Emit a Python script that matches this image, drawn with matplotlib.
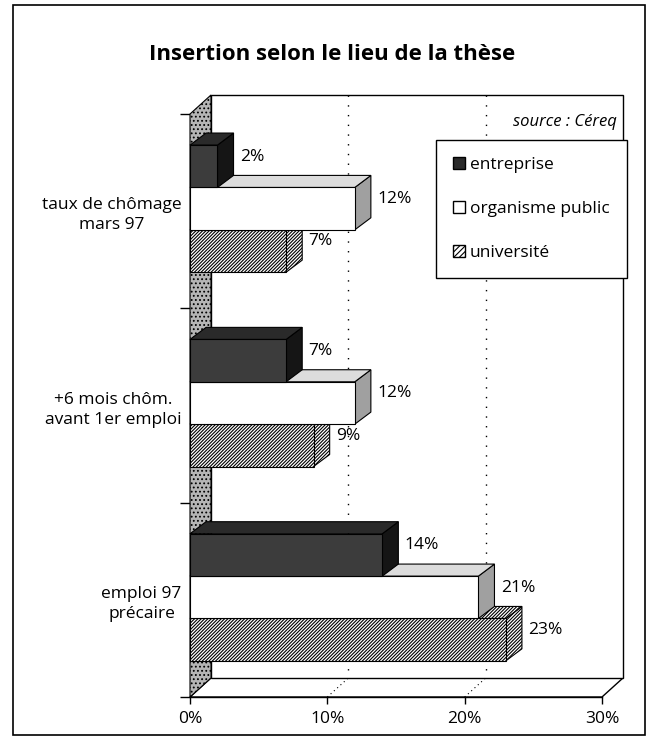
import matplotlib.pyplot as plt
from matplotlib.patches import Polygon, Rectangle, Patch

plt.rcParams['font.family'] = ['Open Sans', 'DejaVu Sans']
plt.rcParams['hatch.linewidth'] = 0.8

# données (source : Céreq)
categories = ['taux de chômage\nmars 97', '+6 mois chôm.\navant 1er emploi', 'emploi 97\nprécaire']
series = ['entreprise', 'organisme public', 'université']
entreprise = [2, 7, 14]
organisme_public = [12, 12, 21]
universite = [7, 9, 23]
xticks = [0, 10, 20, 30]
xtick_labels = ['0%', '10%', '20%', '30%']

values = [entreprise, organisme_public, universite]
# (face avant, dessus, côté, hachure)
styles = [('#3c3c3c', '#2a2a2a', '#151515', None),
          ('white', '#dcdcdc', '#a0a0a0', None),
          ('white', 'white', 'white', '//////////')]

fig = plt.figure(figsize=(6.58, 7.4), dpi=100)
ax = fig.add_axes([190/658, 1-697/740, 412/658, 583/740])
ax.set_xlim(0, 30)
ax.set_ylim(3, 0)
for s in ax.spines.values():
    s.set_visible(False)

# profondeur du mur et des barres (unités des données)
wx, wy = 1.53, 0.098
bx, by = 1.17, 0.062

# sol, mur du fond, mur de gauche
ax.add_patch(Polygon([(0, 3), (30, 3), (30+wx, 3-wy), (wx, 3-wy)], closed=True,
                     facecolor='white', edgecolor='black', lw=1, clip_on=False, zorder=1))
ax.add_patch(Rectangle((wx, -wy), 30, 3, facecolor='white', edgecolor='black',
                       lw=1, clip_on=False, zorder=1))
ax.add_patch(Polygon([(0, 0), (wx, -wy), (wx, 3-wy), (0, 3)], closed=True,
                     facecolor='#b5b5b5', edgecolor='black', hatch='....', lw=0.8,
                     clip_on=False, zorder=2))
for g in xticks[1:-1]:
    ax.plot([g+wx, g+wx], [-wy, 3-wy], ls=(0, (1, 6)), color='black', lw=1,
            clip_on=False, zorder=1.5)
    ax.plot([g, g+wx], [3, 3-wy], ls=(0, (1, 3)), color='black', lw=0.8,
            clip_on=False, zorder=1.5)

# barres 3D
h = 0.218
z = 3
for i in reversed(range(len(categories))):
    for j in reversed(range(len(series))):
        v = values[j][i]
        y0 = i + 0.16 + j*h
        front, top, side, hatch = styles[j]
        ax.add_patch(Polygon([(v, y0), (v+bx, y0-by), (v+bx, y0+h-by), (v, y0+h)],
                             closed=True, facecolor=side, edgecolor='black', hatch=hatch,
                             lw=0.8, clip_on=False, zorder=z))
        ax.add_patch(Polygon([(0, y0), (v, y0), (v+bx, y0-by), (bx, y0-by)],
                             closed=True, facecolor=top, edgecolor='black', hatch=hatch,
                             lw=0.8, clip_on=False, zorder=z))
        ax.add_patch(Rectangle((0, y0), v, h, facecolor=front, edgecolor='black',
                               hatch=hatch, lw=0.8, clip_on=False, zorder=z+0.5))
        ax.text(v+bx+0.45, y0+h/2-by*0.8, f'{v}%', ha='left', va='center',
                fontsize=12.5, zorder=20)
        z += 1

# axes
ax.set_xticks(xticks)
ax.set_xticklabels(xtick_labels, fontsize=12.5)
ax.tick_params(axis='x', length=5, width=1, pad=5)
ax.set_yticks([0.5, 1.5, 2.5])
ax.set_yticklabels(categories, fontsize=12.5, linespacing=1.35)
for t in ax.get_yticklabels():
    t.set_multialignment('center')
ax.set_yticks([0, 1, 2, 3], minor=True)
ax.tick_params(axis='y', which='major', length=0, pad=6)
ax.tick_params(axis='y', which='minor', length=7, width=1)
ax.plot([0, 30], [3, 3], color='black', lw=1, clip_on=False, zorder=2)

# légende et source
handles = [Patch(facecolor='#2a2a2a', edgecolor='black'),
           Patch(facecolor='white', edgecolor='black'),
           Patch(facecolor='white', edgecolor='black', hatch='//////')]
leg = fig.legend(handles, series, loc='upper right', bbox_to_anchor=(627/658, 1-140/740),
                 frameon=True, fancybox=False, edgecolor='black', framealpha=1,
                 fontsize=12.5, handlelength=0.65, handleheight=0.65, handletextpad=0.3,
                 labelspacing=1.6, borderpad=1.0, borderaxespad=0)
leg.get_frame().set_linewidth(1)
leg.set_zorder(30)
fig.text(617/658, 1-122/740, 'source : Céreq', style='italic', ha='right',
         va='center', fontsize=12)

fig.text(332/658, 1-55/740, 'Insertion selon le lieu de la thèse', ha='center',
         va='center', fontsize=16, fontweight='bold')
fig.add_artist(Rectangle((13/658, 5/740), 632/658, 730/740, transform=fig.transFigure,
                         fill=False, edgecolor='black', lw=1.2))

fig.savefig('out.png', dpi=100)
